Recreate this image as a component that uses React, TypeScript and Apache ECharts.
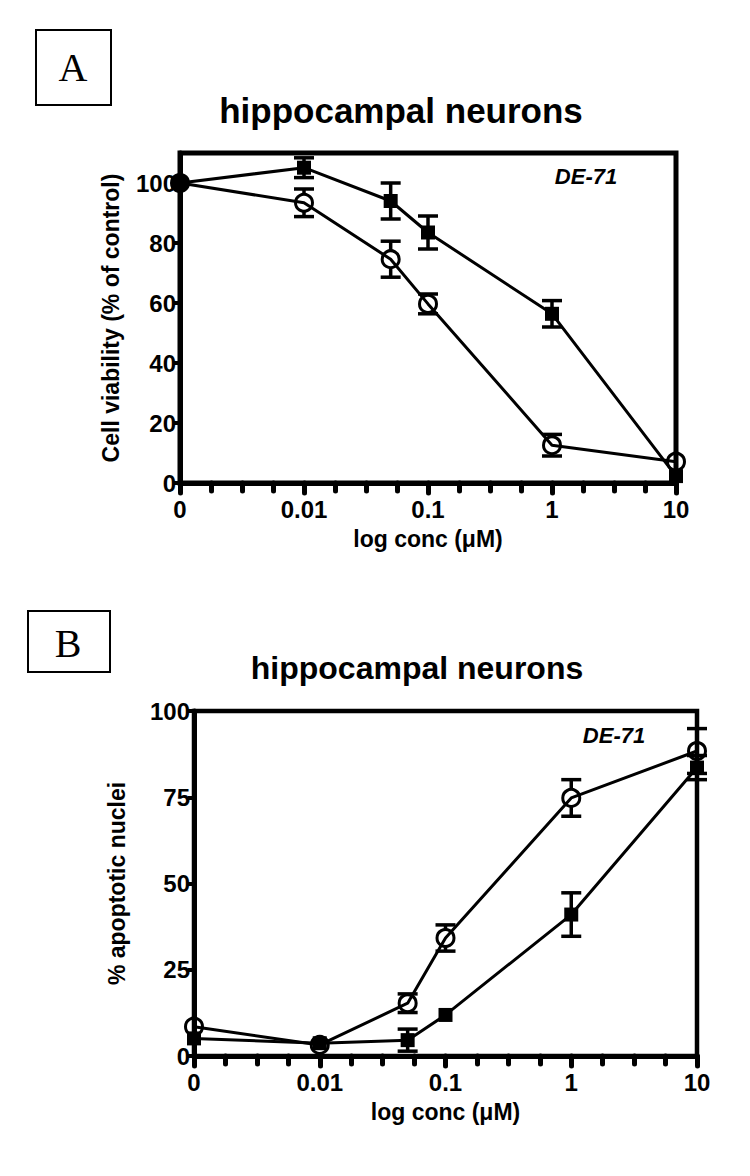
import React, { useEffect, useRef } from "react";
import * as echarts from "echarts";

// concentrations (µM); 0 is plotted one decade below 0.01
const concentrations = [0, 0.01, 0.05, 0.1, 1, 10];
const xTickLabels = ["0", "0.01", "0.1", "1", "10"];

// Panel A: cell viability (% of control)
const viabilityCircle = [100, 93.4, 74.6, 59.7, 12.6, 7.1];
const viabilityCircleErr = [0, 4.6, 6, 3.3, 3.6, 0];
const viabilitySquare = [100, 105.1, 94, 83.5, 56.4, 2.3];
const viabilitySquareErr = [0, 3.3, 6, 5.5, 4.4, 0];

// Panel B: % apoptotic nuclei
const apoptosisCircle = [8.5, 3.2, 15.3, 34.2, 74.8, 88.4];
const apoptosisCircleErr = [0, 0, 2.7, 3.8, 5.3, 6.5];
const apoptosisSquare = [5.1, 3.7, 4.6, 11.9, 41, 83.6];
const apoptosisSquareErr = [0, 0, 3.2, 0, 6.3, 3.5];

const FONT = "Liberation Sans, Arial, sans-serif";
const SERIF = "Liberation Serif, Times New Roman, serif";

const toX = (c: number) => (c === 0 ? -3 : Math.log10(c));

function errRenderer(gap: number) {
  return (params: any, api: any) => {
    const x = api.value(0);
    const y = api.value(1);
    const e = api.value(2);
    if (!e) return null;
    const c = api.coord([x, y]);
    const t = api.coord([x, y + e]);
    const b = api.coord([x, y - e]);
    const hw = 10;
    const st = { stroke: "#000", lineWidth: 3.5 };
    const children: any[] = [];
    if (t[1] < c[1] - gap)
      children.push({ type: "line", shape: { x1: c[0], y1: t[1], x2: c[0], y2: c[1] - gap }, style: st });
    if (b[1] > c[1] + gap)
      children.push({ type: "line", shape: { x1: c[0], y1: c[1] + gap, x2: c[0], y2: b[1] }, style: st });
    children.push({ type: "line", shape: { x1: c[0] - hw, y1: t[1], x2: c[0] + hw, y2: t[1] }, style: st });
    children.push({ type: "line", shape: { x1: c[0] - hw, y1: b[1], x2: c[0] + hw, y2: b[1] }, style: st });
    return { type: "group", children };
  };
}

function xAxisFor(gridIndex: number) {
  return {
    gridIndex,
    type: "value",
    min: -3,
    max: 1,
    interval: 1,
    axisLine: { onZero: false, lineStyle: { color: "#000", width: 5 } },
    axisTick: { length: 10, lineStyle: { color: "#000", width: 5, cap: "round" } },
    minorTick: { show: true, splitNumber: 4, length: 8, lineStyle: { color: "#000", width: 5, cap: "round" } },
    splitLine: { show: false },
    axisLabel: {
      formatter: (v: number) => xTickLabels[Math.round(v) + 3] ?? "",
      fontSize: 24,
      fontWeight: "bold",
      fontFamily: FONT,
      color: "#000",
      margin: 14,
    },
    name: "log conc (\u03bcM)",
    nameLocation: "middle",
    nameGap: 44,
    nameTextStyle: { fontSize: 23, fontWeight: "bold", fontFamily: FONT, color: "#000" },
  };
}

function yAxisFor(gridIndex: number, max: number, interval: number, name: string, nameGap: number) {
  return {
    gridIndex,
    type: "value",
    min: 0,
    max,
    interval,
    axisLine: { show: true, onZero: false, lineStyle: { color: "#000", width: 5 } },
    axisTick: { show: true, length: 6, lineStyle: { color: "#000", width: 4 } },
    splitLine: { show: false },
    axisLabel: {
      showMaxLabel: max % interval === 0,
      formatter: (v: number) => (v % interval === 0 ? String(v) : ""),
      fontSize: 24,
      fontWeight: "bold",
      fontFamily: FONT,
      color: "#000",
      margin: 4,
    },
    name,
    nameLocation: "middle",
    nameGap,
    nameTextStyle: { fontSize: 23, fontWeight: "bold", fontFamily: FONT, color: "#000" },
  };
}

function lineSeries(idx: number, values: number[], kind: "circle" | "square", filledFirst = false) {
  const data = values.map((v, i) => {
    const item: any = { value: [toX(concentrations[i]), v] };
    if (filledFirst && i === 0) item.itemStyle = { color: "#000" };
    return item;
  });
  return {
    type: "line",
    xAxisIndex: idx,
    yAxisIndex: idx,
    data,
    clip: false,
    symbol: kind === "circle" ? "circle" : "rect",
    symbolSize: kind === "circle" ? 17 : 14,
    showAllSymbol: true,
    lineStyle: { color: "#000", width: 3 },
    itemStyle:
      kind === "circle"
        ? { color: "rgba(255,255,255,0)", borderColor: "#000", borderWidth: 3 }
        : { color: "#000", borderWidth: 0 },
    z: kind === "circle" ? 4 : 5,
    silent: true,
  };
}

function errSeries(idx: number, values: number[], errs: number[], gap: number) {
  return {
    type: "custom",
    xAxisIndex: idx,
    yAxisIndex: idx,
    data: values.map((v, i) => [toX(concentrations[i]), v, errs[i]]),
    encode: { x: 0, y: 1 },
    renderItem: errRenderer(gap),
    clip: false,
    z: 3,
    silent: true,
  };
}

export default function App() {
  const ref = useRef<HTMLDivElement>(null);
  useEffect(() => {
    if (!ref.current) return;
    const chart = echarts.init(ref.current, undefined, { renderer: "svg" });
    chart.setOption({
      animation: false,
      backgroundColor: "#fff",
      grid: [
        { left: 180, top: 153, width: 496, height: 330, show: true, borderColor: "#000", borderWidth: 5, backgroundColor: "transparent" },
        { left: 194, top: 711, width: 503, height: 345, show: true, borderColor: "#000", borderWidth: 4.5, backgroundColor: "transparent" },
      ],
      xAxis: [xAxisFor(0), xAxisFor(1)],
      yAxis: [
        yAxisFor(0, 110, 20, "Cell viability (% of control)", 58),
        yAxisFor(1, 100, 25, "% apoptotic nuclei", 66),
      ],
      series: [
        errSeries(0, viabilityCircle, viabilityCircleErr, 9),
        errSeries(0, viabilitySquare, viabilitySquareErr, 6),
        lineSeries(0, viabilityCircle, "circle", true),
        lineSeries(0, viabilitySquare, "square"),
        errSeries(1, apoptosisCircle, apoptosisCircleErr, 9),
        errSeries(1, apoptosisSquare, apoptosisSquareErr, 6),
        lineSeries(1, apoptosisCircle, "circle"),
        lineSeries(1, apoptosisSquare, "square"),
      ],
      graphic: [
        { type: "rect", shape: { x: 36, y: 30, width: 75, height: 75 }, style: { fill: "none", stroke: "#000", lineWidth: 2 } },
        { type: "text", x: 73, y: 67, style: { text: "A", font: `40px ${SERIF}`, fill: "#000", align: "center", verticalAlign: "middle" } },
        { type: "rect", shape: { x: 28, y: 611, width: 82, height: 61 }, style: { fill: "none", stroke: "#000", lineWidth: 2 } },
        { type: "text", x: 68, y: 643, style: { text: "B", font: `40px ${SERIF}`, fill: "#000", align: "center", verticalAlign: "middle" } },
        { type: "text", x: 401, y: 110, style: { text: "hippocampal neurons", font: `bold 35px ${FONT}`, fill: "#000", align: "center", verticalAlign: "middle" } },
        { type: "text", x: 417, y: 668, style: { text: "hippocampal neurons", font: `bold 32px ${FONT}`, fill: "#000", align: "center", verticalAlign: "middle" } },
        { type: "text", x: 586, y: 176, style: { text: "DE-71", font: `italic bold 22px ${FONT}`, fill: "#000", align: "center", verticalAlign: "middle" } },
        { type: "text", x: 614, y: 735, style: { text: "DE-71", font: `italic bold 22px ${FONT}`, fill: "#000", align: "center", verticalAlign: "middle" } },
      ],
    });
    return () => chart.dispose();
  }, []);
  return <div ref={ref} style={{ position: "absolute", left: 0, top: 0, width: 750, height: 1176 }} />;
}
